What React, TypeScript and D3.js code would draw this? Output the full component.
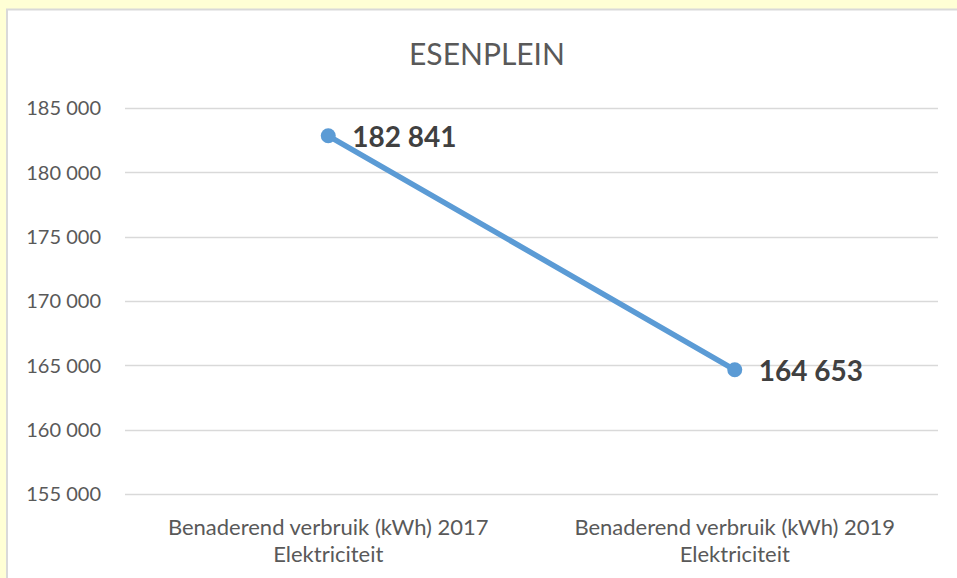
import React from "react";
import * as d3 from "d3";

const categories: string[][] = [
  ["Benaderend verbruik (kWh) 2017", "Elektriciteit"],
  ["Benaderend verbruik (kWh) 2019", "Elektriciteit"],
];
const values: number[] = [182841, 164653];
const yTicks: number[] = [155000, 160000, 165000, 170000, 175000, 180000, 185000];
const title = "ESENPLEIN";

const W = 957;
const H = 578;
const plotLeft = 125;
const plotRight = 938;
const plotTop = 108;
const plotBottom = 494;

const fmt = (v: number) => d3.format(",")(v).replace(/,/g, " ");
const FONT = "Lato, 'Open Sans', sans-serif";

export default function App() {
  const x = d3
    .scaleBand<number>()
    .domain(categories.map((_, i) => i))
    .range([plotLeft, plotRight]);
  const y = d3.scaleLinear().domain([155000, 185000]).range([plotBottom, plotTop]);
  const cx = (i: number) => (x(i) ?? 0) + x.bandwidth() / 2;
  const line = d3
    .line<number>()
    .x((_, i) => cx(i))
    .y((d) => y(d));

  return (
    <svg
      width={W}
      height={H}
      style={{ position: "fixed", left: 0, top: 0, display: "block" }}
      fontFamily={FONT}
    >
      <rect x={0} y={0} width={W} height={H} fill="#FFFFD5" />
      <rect x={7} y={9.5} width={W + 20} height={H + 20} fill="#FFFFFF" stroke="#D9D9D9" strokeWidth={2} />
      <text x={487} y={65} textAnchor="middle" fontSize={30} fill="#595959">
        {title}
      </text>
      {yTicks.map((t) => (
        <g key={t}>
          <line x1={plotLeft} x2={plotRight} y1={Math.round(y(t)) + 0.5} y2={Math.round(y(t)) + 0.5} stroke="#D9D9D9" strokeWidth={1.5} />
          <text x={101} y={y(t)} dy="0.36em" textAnchor="end" fontSize={20} fill="#595959">
            {fmt(t)}
          </text>
        </g>
      ))}
      {categories.map((c, i) => (
        <text key={i} x={cx(i)} textAnchor="middle" fontSize={22} fill="#595959">
          <tspan x={cx(i)} y={535}>{c[0]}</tspan>
          <tspan x={cx(i)} y={562}>{c[1]}</tspan>
        </text>
      ))}
      <path d={line(values) ?? ""} fill="none" stroke="#5B9BD5" strokeWidth={5.5} strokeLinecap="round" />
      {values.map((v, i) => (
        <g key={i}>
          <circle cx={cx(i)} cy={y(v)} r={7.5} fill="#5B9BD5" />
          <text x={cx(i) + 24} y={y(v)} dy="0.4em" fontSize={28} fontWeight="bold" fill="#404040">
            {fmt(v)}
          </text>
        </g>
      ))}
    </svg>
  );
}
